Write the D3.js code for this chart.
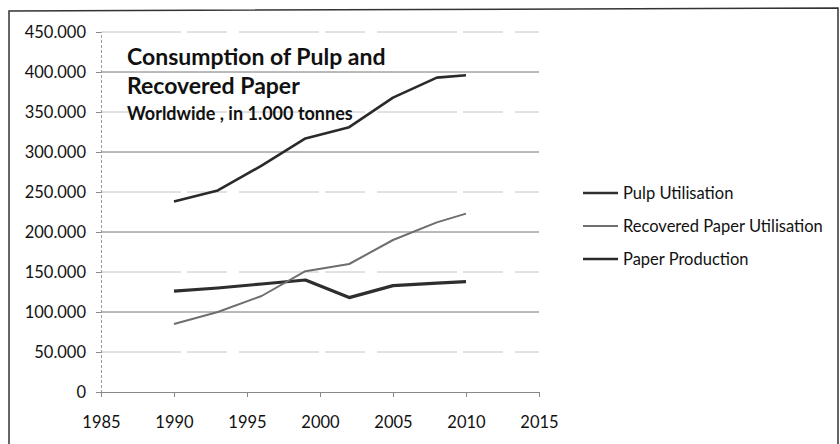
<!DOCTYPE html>
<html>
<head>
<meta charset="utf-8">
<script src="https://cdn.jsdelivr.net/npm/d3@7"></script>
<style>
  body { margin: 0; background: #fff; }
  svg text { font-family: Lato, "Liberation Sans", sans-serif; fill: #111; }
</style>
</head>
<body>
<div id="chart"></div>
<script>
// values in 1.000 tonnes
const years = [1990, 1993, 1996, 1999, 2002, 2005, 2008, 2010]
const pulpUtilisation = [126, 130, 135, 140, 118, 133, 136, 138]
const recoveredPaper = [85, 100, 120, 151, 160, 190, 212, 223]
const paperProduction = [238, 252, 283, 317, 331, 368, 393, 396]

const yTicks = [0, 50, 100, 150, 200, 250, 300, 350, 400, 450]
const xTicks = [1985, 1990, 1995, 2000, 2005, 2010, 2015]

const series = [
  {name: 'Pulp Utilisation', values: pulpUtilisation, color: '#2e2e2e', width: 3.2},
  {name: 'Recovered Paper Utilisation', values: recoveredPaper, color: '#6e6e6e', width: 2},
  {name: 'Paper Production', values: paperProduction, color: '#2a2a2a', width: 2.6},
]

const width = 840, height = 444

const svg = d3.select('#chart').append('svg')
    .attr('width', width)
    .attr('height', height)

// outer frame (bottom edge is cut off in the scan)
svg.append('path')
    .attr('d', `M9,${height} L9,11 L838,8 L838,${height}`)
    .attr('fill', 'none')
    .attr('stroke', '#333')
    .attr('stroke-width', 1.5)

const x = d3.scaleLinear().domain([1985, 2015]).range([101, 539])
const y = d3.scaleLinear().domain([0, 450]).range([392, 32])

// gridlines, the odd ones came out faint in the scan
svg.append('g').selectAll('line')
    .data(yTicks.filter(d => d > 0))
    .enter().append('line')
    .attr('x1', x(1985)).attr('x2', x(2015))
    .attr('y1', d => y(d)).attr('y2', d => y(d))
    .style('stroke', d => d % 100 === 0 ? '#777' : '#c4c4c4')
    .style('stroke-dasharray', d => d % 100 === 0 ? null : '80,6,40,12')
    .style('stroke-width', 1)

// y axis
const yAxis = svg.append('g')
    .attr('transform', `translate(${x(1985)},0)`)
    .call(d3.axisLeft(y).tickValues(yTicks).tickSize(5).tickPadding(10)
        .tickFormat(d => d === 0 ? '0' : d3.format('.3f')(d)))
yAxis.select('.domain').style('stroke', '#999').style('stroke-dasharray', '3,2')
yAxis.selectAll('.tick line').style('stroke', '#888')
yAxis.selectAll('text').style('font-size', '16.5px')

// x axis
const xAxis = svg.append('g')
    .attr('transform', `translate(0,${y(0)})`)
    .call(d3.axisBottom(x).tickValues(xTicks).tickSize(5).tickPadding(19)
        .tickFormat(d3.format('d')))
xAxis.select('.domain').style('stroke', '#888')
xAxis.selectAll('.tick line').style('stroke', '#888')
xAxis.selectAll('text').style('font-size', '16.5px')

// lines
const line = d3.line()
    .x((d, i) => x(years[i]))
    .y(d => y(d))

svg.append('g').selectAll('path')
    .data(series)
    .enter().append('path')
    .attr('d', d => line(d.values))
    .attr('fill', 'none')
    .attr('stroke', d => d.color)
    .attr('stroke-width', d => d.width)
    .attr('stroke-linejoin', 'round')

// title
const title = svg.append('g').attr('transform', 'translate(127,0)')
title.append('text').attr('y', 65)
    .style('font-size', '23px').style('font-weight', 'bold')
    .text('Consumption of Pulp and')
title.append('text').attr('y', 94)
    .style('font-size', '23px').style('font-weight', 'bold')
    .text('Recovered Paper')
title.append('text').attr('y', 120)
    .style('font-size', '18px').style('font-weight', 'bold')
    .text('Worldwide , in 1.000 tonnes')

// legend
const legend = svg.append('g').selectAll('g')
    .data(series)
    .enter().append('g')
    .attr('transform', (d, i) => `translate(583,${193 + i * 33})`)

legend.append('line')
    .attr('x1', 0).attr('x2', 35)
    .attr('stroke', d => d.color)
    .attr('stroke-width', d => d.name === 'Recovered Paper Utilisation' ? 2 : 2.6)

legend.append('text')
    .attr('x', 40).attr('y', 5.5)
    .style('font-size', '16.5px')
    .text(d => d.name)
</script>
</body>
</html>
